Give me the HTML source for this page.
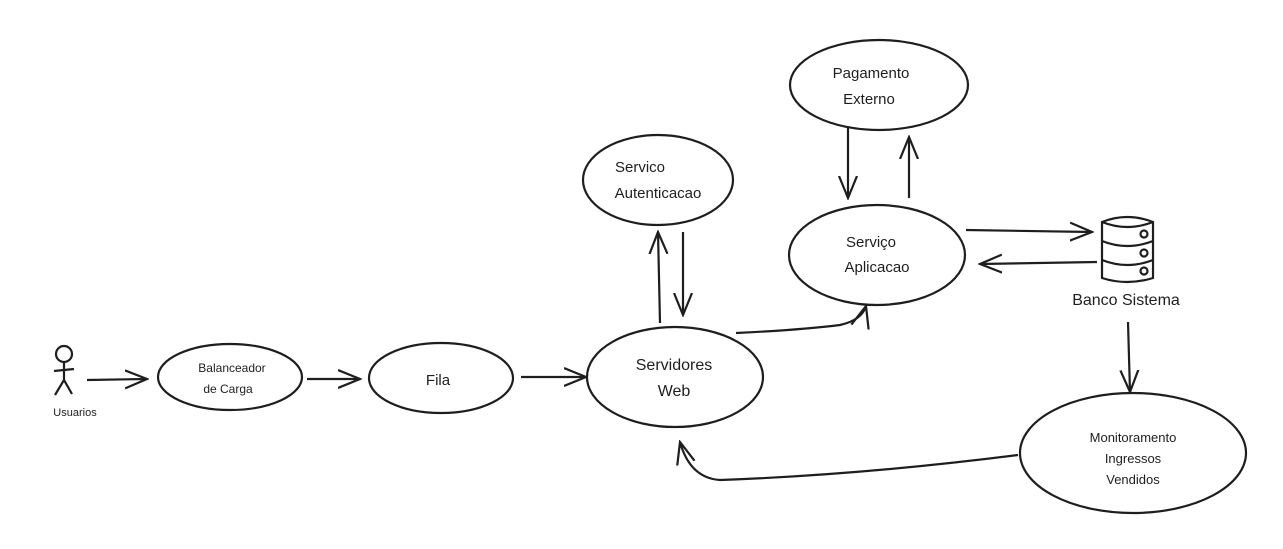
<!DOCTYPE html>
<html><head><meta charset="utf-8"><style>
html,body{margin:0;padding:0;background:#fff;width:1283px;height:549px;overflow:hidden}
text{font-family:"Liberation Sans",sans-serif;fill:#1e1e1e;text-anchor:middle}
</style></head><body>
<svg width="1283" height="549" viewBox="0 0 1283 549" xmlns="http://www.w3.org/2000/svg">
<defs><marker id="a" markerWidth="24" markerHeight="24" refX="22" refY="12" orient="auto" markerUnits="userSpaceOnUse"><path d="M0,3 L22,12 L0,21" fill="none" stroke="#1e1e1e" stroke-width="2.2"/></marker></defs>
<g fill="none" stroke="#1e1e1e" stroke-width="2.2">
<ellipse cx="230" cy="377" rx="72" ry="33"/>
<ellipse cx="441" cy="378" rx="72" ry="35"/>
<ellipse cx="675" cy="377" rx="88" ry="50"/>
<ellipse cx="658" cy="180" rx="75" ry="45"/>
<ellipse cx="879" cy="85" rx="89" ry="45"/>
<ellipse cx="877" cy="255" rx="88" ry="50"/>
<ellipse cx="1133" cy="453" rx="113" ry="60"/>
<circle cx="64" cy="354" r="8"/>
<path d="M64 362 L64 380 M54 371 L74 369 M64 380 L55 395 M64 380 L72 394"/>
<path d="M1102 222 Q1127 212 1153 222 L1153 278 Q1127 286 1102 278 Z M1102 222 Q1127 232 1153 222 M1102 241 Q1127 251 1153 241 M1102 260 Q1127 270 1153 260"/>
<circle cx="1144" cy="234" r="3.5"/><circle cx="1144" cy="253" r="3.5"/><circle cx="1144" cy="271" r="3.5"/>
<g marker-end="url(#a)">
<path d="M87 380 L147 379"/>
<path d="M307 379 L360 379"/>
<path d="M521 377 L586 377"/>
<path d="M660 323 L658 232"/>
<path d="M683 232 L683 315"/>
<path d="M848 128 L848 198"/>
<path d="M909 198 L909 137"/>
<path d="M736 333 Q800 330 840 325 Q862 320 866 306"/>
<path d="M966 230 L1092 232"/>
<path d="M1097 262 L980 264"/>
<path d="M1128 322 L1130 392"/>
<path d="M1018 455 Q860 475 720 480 Q690 478 680 442"/>
</g>
</g>
<text x="75" y="416" font-size="11">Usuarios</text>
<text x="232" y="372" font-size="12">Balanceador</text>
<text x="228" y="393" font-size="12">de Carga</text>
<text x="438" y="385" font-size="15">Fila</text>
<text x="674" y="370" font-size="16">Servidores</text>
<text x="674" y="396" font-size="16">Web</text>
<text x="640" y="172" font-size="15">Servico</text>
<text x="658" y="198" font-size="15">Autenticacao</text>
<text x="871" y="78" font-size="15">Pagamento</text>
<text x="869" y="104" font-size="15">Externo</text>
<text x="871" y="247" font-size="15">Serviço</text>
<text x="877" y="272" font-size="15">Aplicacao</text>
<text x="1126" y="305" font-size="16">Banco Sistema</text>
<text x="1133" y="442" font-size="13">Monitoramento</text>
<text x="1133" y="463" font-size="13">Ingressos</text>
<text x="1133" y="484" font-size="13">Vendidos</text>
</svg>
</body></html>
